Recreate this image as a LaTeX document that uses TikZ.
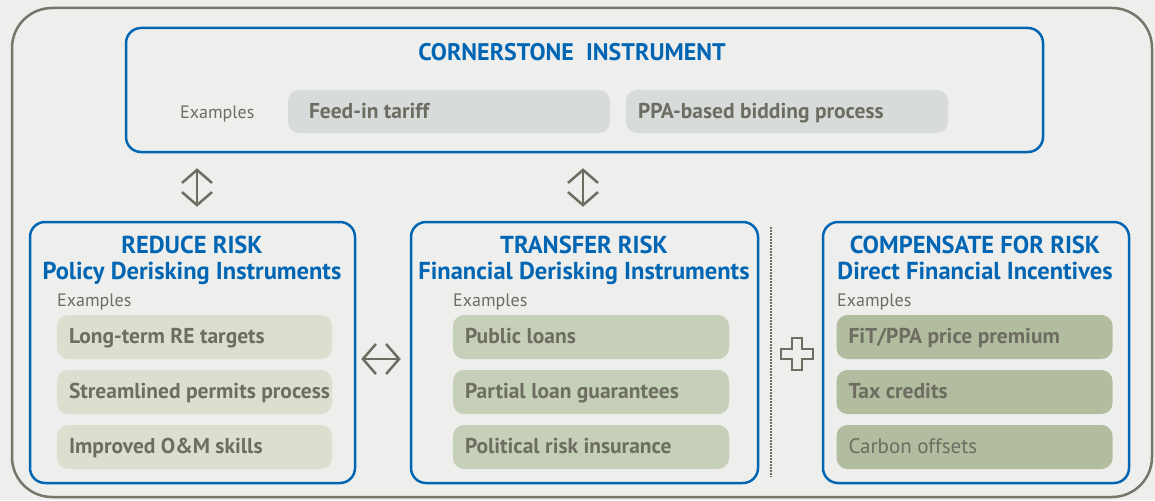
\documentclass[tikz,border=0pt]{standalone}
\usepackage{fontspec}
\setmainfont{PT Sans}
\usetikzlibrary{arrows.meta}
\definecolor{bgc}{HTML}{EEEEEC}
\definecolor{outerc}{HTML}{76766A}
\definecolor{bluec}{HTML}{0066B3}
\definecolor{txtc}{HTML}{6D6D62}
\definecolor{pillgray}{HTML}{D7DCDB}
\definecolor{pillA}{HTML}{DADFCF}
\definecolor{pillB}{HTML}{C6CFB7}
\definecolor{pillC}{HTML}{B2BC9E}
\tikzset{
  bluebox/.style={draw=bluec, line width=2.5pt, rounded corners=15pt, fill=bgc, inner sep=0pt},
  pill/.style={rounded corners=11pt, inner sep=0pt, minimum height=44pt, minimum width=#1},
  pilltext/.style={text=txtc, font=\fontsize{21.5}{24}\selectfont\bfseries, inner sep=0pt, anchor=base west},
  title/.style={text=bluec, font=\fontsize{24.5}{28}\selectfont\bfseries, inner sep=0pt, anchor=base},
  exlabel/.style={text=txtc, font=\fontsize{18}{21}\selectfont, inner sep=0pt, anchor=base west},
  dblarrow/.style={draw=txtc, line width=2.5pt, {Straight Barb[length=13pt,width=30pt]}-{Straight Barb[length=13pt,width=30pt]}}
}
\begin{document}
\begin{tikzpicture}[x=1pt,y=-1pt]
\useasboundingbox (0,0) rectangle (1155,500);
\fill[bgc] (0,0) rectangle (1155,500);
\draw[outerc, line width=2.5pt, rounded corners=40pt] (12,8) rectangle (1152,497);

% cornerstone
\node[bluebox, minimum width=917pt, minimum height=124pt] (cs) at (584.5,90) {};
\node[title, font=\fontsize{24}{28}\selectfont\bfseries] (cstitle) at (572,61) {CORNERSTONE\ \ INSTRUMENT};
\node[exlabel] (csex) at (180,118) {Examples};
\node[pill=322pt, fill=pillgray, minimum height=43pt] (p1) at (449,111.5) {};
\node[pill=322pt, fill=pillgray, minimum height=43pt] (p2) at (787,111.5) {};
\node[pilltext] (p1t) at ([xshift=21pt,yshift=-6.5pt]p1.west) {Feed-in tariff};
\node[pilltext] (p2t) at ([xshift=12pt,yshift=-6.5pt]p2.west) {PPA-based bidding process};

% reduce
\node[bluebox, minimum width=325pt, minimum height=261pt] (rd) at (192.5,352.5) {};
\node[title] (rdt1) at (192,253.5) {REDUCE RISK};
\node[title] (rdt2) at (192,279) {Policy Derisking Instruments};
\node[exlabel] (rdex) at (57,306) {Examples};
\node[pill=275pt, fill=pillA] (r1) at (194.5,337) {};
\node[pill=275pt, fill=pillA] (r2) at (194.5,392) {};
\node[pill=275pt, fill=pillA] (r3) at (194.5,447) {};
\node[pilltext] (r1t) at ([xshift=12pt,yshift=-6pt]r1.west) {Long-term RE targets};
\node[pilltext] (r2t) at ([xshift=12pt,yshift=-6pt]r2.west) {Streamlined permits process};
\node[pilltext] (r3t) at ([xshift=12pt,yshift=-6pt]r3.west) {Improved O\&M skills};

% transfer
\node[bluebox, minimum width=347pt, minimum height=261pt] (tr) at (584.5,352.5) {};
\node[title] (trt1) at (584,253.5) {TRANSFER RISK};
\node[title] (trt2) at (584,279) {Financial Derisking Instruments};
\node[exlabel] (trex) at (453,306) {Examples};
\node[pill=276pt, fill=pillB] (t1) at (591,337) {};
\node[pill=276pt, fill=pillB] (t2) at (591,392) {};
\node[pill=276pt, fill=pillB] (t3) at (591,447) {};
\node[pilltext] (t1t) at ([xshift=12pt,yshift=-6pt]t1.west) {Public loans};
\node[pilltext] (t2t) at ([xshift=12pt,yshift=-6pt]t2.west) {Partial loan guarantees};
\node[pilltext] (t3t) at ([xshift=12pt,yshift=-6pt]t3.west) {Political risk insurance};

% compensate
\node[bluebox, minimum width=306pt, minimum height=261pt] (cp) at (976,352.5) {};
\node[title] (cpt1) at (975,253.5) {COMPENSATE FOR RISK};
\node[title] (cpt2) at (975,279) {Direct Financial Incentives};
\node[exlabel] (cpex) at (837,306) {Examples};
\node[pill=276pt, fill=pillC] (c1) at (974.5,337) {};
\node[pill=276pt, fill=pillC] (c2) at (974.5,392) {};
\node[pill=276pt, fill=pillC] (c3) at (974.5,447) {};
\node[pilltext] (c1t) at ([xshift=12pt,yshift=-6pt]c1.west) {FiT/PPA price premium};
\node[pilltext] (c2t) at ([xshift=12pt,yshift=-6pt]c2.west) {Tax credits};
\node[pilltext, font=\fontsize{21}{24}\selectfont] (c3t) at ([xshift=12pt,yshift=-6pt]c3.west) {Carbon offsets};

% connectors
\coordinate (a1) at (197,152);
\coordinate (a2) at (197,222);
\coordinate (b1) at (583,152);
\coordinate (b2) at (583,222);
\draw[dblarrow, shorten <=15pt, shorten >=14pt] (cs.south -| a1) -- (rd.north -| a2);
\draw[dblarrow, shorten <=15pt, shorten >=14pt] (cs.south -| b1) -- (tr.north -| b2);
\draw[dblarrow, shorten <=5pt, shorten >=9pt] (rd.east |- 0,359) -- (tr.west |- 0,359);

% dotted separator
\draw[txtc, line width=2pt, dash pattern=on 1.5pt off 1.5pt] (771,227) -- (771,477);

% plus sign
\draw[txtc, line width=2.2pt, fill=bgc]
  (792,338) -- (802,338) -- (802,349) -- (813,349) -- (813,359) -- (802,359) -- (802,370)
  -- (792,370) -- (792,359) -- (781,359) -- (781,349) -- (792,349) -- cycle;
\end{tikzpicture}
\end{document}
